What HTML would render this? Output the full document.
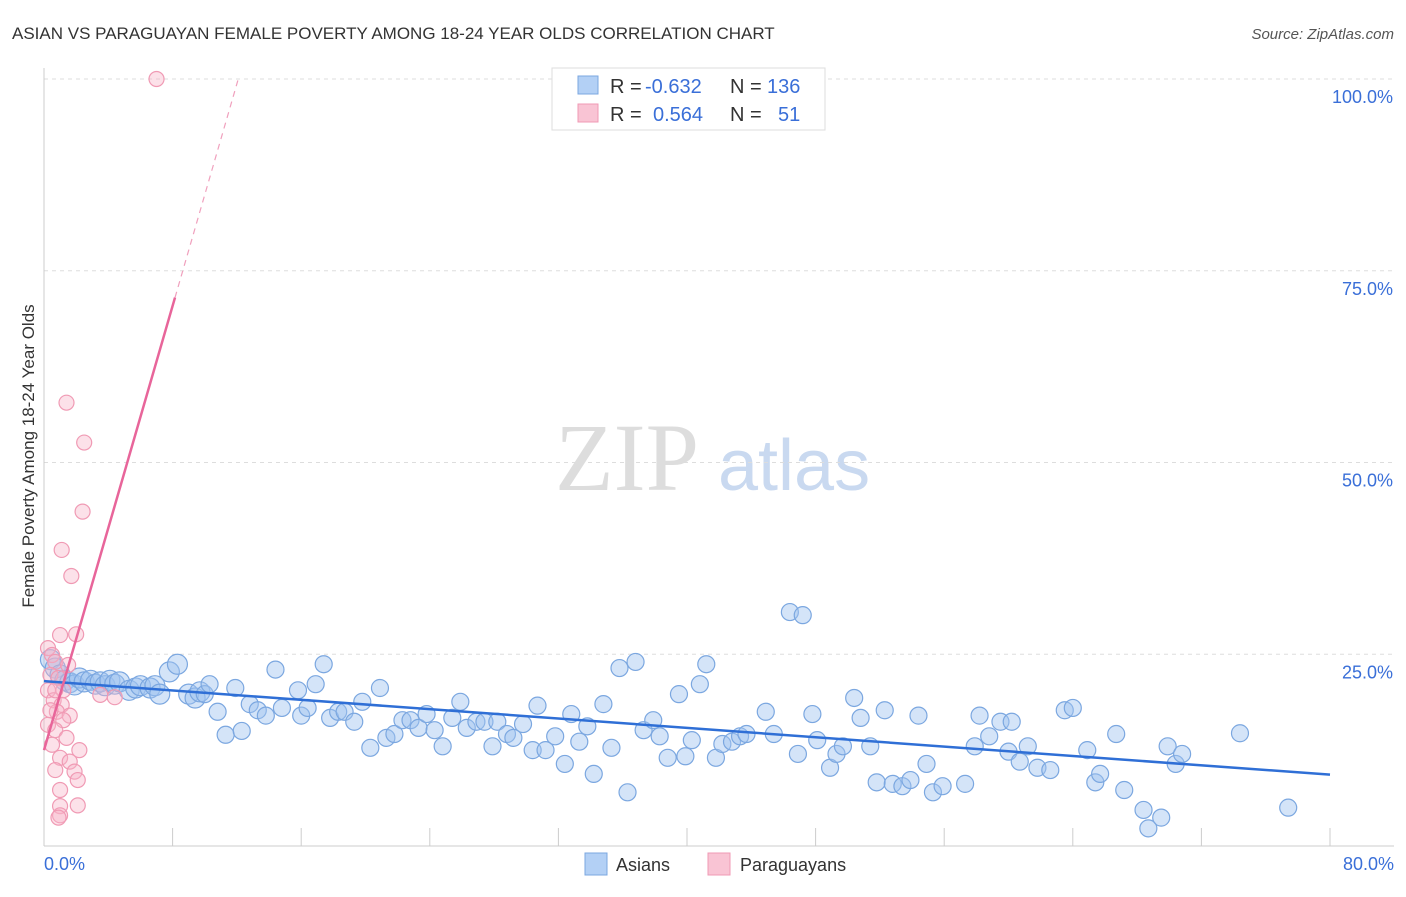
<!DOCTYPE html>
<html><head><meta charset="utf-8"><style>
body{margin:0;background:#fff;font-family:"Liberation Sans",sans-serif}
</style></head><body>
<svg id="chart" width="1406" height="892" xmlns="http://www.w3.org/2000/svg" font-family="Liberation Sans, sans-serif">
<text x="12" y="39" font-size="17" fill="#333">ASIAN VS PARAGUAYAN FEMALE POVERTY AMONG 18-24 YEAR OLDS CORRELATION CHART</text>
<text x="1394" y="39" font-size="15" fill="#555" text-anchor="end" font-style="italic">Source: ZipAtlas.com</text>
<g><text x="555" y="490" font-size="96" fill="#ddd" font-family="Liberation Serif, serif">ZIP</text><text x="718" y="490" font-size="72" fill="#c9d9f0">atlas</text></g>
<g id="grid"></g><g id="axes"></g><g id="pts"></g><g id="trend"></g>
<text transform="translate(34,456) rotate(-90)" font-size="17" fill="#333" text-anchor="middle">Female Poverty Among 18-24 Year Olds</text>
<g font-size="20">
<rect x="552" y="68" width="273" height="62" fill="#fff" stroke="#ddd"/>
<rect x="578" y="76" width="20" height="18" fill="#b3d0f5" stroke="#7ba7e0"/>
<rect x="578" y="104" width="20" height="18" fill="#f9c4d4" stroke="#f09ab4"/>
<text x="610" y="93" fill="#333">R =</text><text x="645" y="93" fill="#3a6fd8">-0.632</text>
<text x="730" y="93" fill="#333">N =</text><text x="767" y="93" fill="#3a6fd8">136</text>
<text x="610" y="121" fill="#333">R =</text><text x="653" y="121" fill="#3a6fd8">0.564</text>
<text x="730" y="121" fill="#333">N =</text><text x="778" y="121" fill="#3a6fd8">51</text>
</g>
<g>
<rect x="585" y="853" width="22" height="22" fill="#b3d0f5" stroke="#7ba7e0"/><text x="616" y="871" font-size="18" fill="#333">Asians</text>
<rect x="708" y="853" width="22" height="22" fill="#f9c4d4" stroke="#f09ab4"/><text x="740" y="871" font-size="18" fill="#333">Paraguayans</text>
</g>
</svg>
<script>
const xTicks=[0,8,16,24,32,40,48,56,64,72,80];
const yTicks=[25,50,75,100];
const yTickLabels=["25.0%","50.0%","75.0%","100.0%"];
const xLabels=["0.0%","80.0%"];
const asianX=[0.4,0.7,1.0,1.3,1.6,1.9,2.2,2.5,2.9,3.2,3.5,3.8,4.1,4.4,4.7,5.3,5.7,6.0,6.6,6.9,7.2,7.8,8.3,9.0,9.4,9.7,10.0,10.3,10.8,11.3,11.9,12.3,12.8,13.3,13.8,14.4,14.8,15.8,16.0,16.4,16.9,17.4,17.8,18.3,18.7,19.3,19.8,20.3,20.9,21.3,21.8,22.3,22.8,23.3,23.8,24.3,24.8,25.4,25.9,26.3,26.9,27.4,27.9,28.2,28.8,29.2,29.8,30.4,30.7,31.2,31.8,32.4,32.8,33.3,33.8,34.2,34.8,35.3,35.8,36.3,36.8,37.3,37.9,38.3,38.8,39.5,39.9,40.3,40.8,41.2,41.8,42.2,42.8,43.3,43.7,44.9,45.4,46.4,46.9,47.2,47.8,48.1,48.9,49.3,49.7,50.4,50.8,51.4,51.8,52.3,52.8,53.4,53.9,54.4,54.9,55.3,55.9,57.3,57.9,58.2,58.8,59.5,60.0,60.2,60.7,61.2,61.8,62.6,63.5,64.0,64.9,65.4,65.7,66.7,67.2,68.4,68.7,69.5,69.9,70.4,70.8,74.4,77.4];
const asianY=[24.3,23.2,22.3,21.6,21.3,21.0,21.9,21.4,21.6,21.1,21.4,20.9,21.6,21.1,21.4,20.3,20.6,20.9,20.6,20.9,19.8,22.7,23.7,19.8,19.3,20.1,19.8,21.1,17.5,14.5,20.6,15.0,18.5,17.7,17.0,23.0,18.0,20.3,17.0,18.0,21.1,23.7,16.7,17.5,17.5,16.2,18.8,12.8,20.6,14.1,14.6,16.4,16.4,15.4,17.2,15.1,13.0,16.7,18.8,15.4,16.2,16.2,13.0,16.2,14.6,14.1,15.9,12.5,18.3,12.5,14.3,10.7,17.2,13.6,15.6,9.4,18.5,12.8,23.2,7.0,24.0,15.1,16.4,14.3,11.5,19.8,11.7,13.8,21.1,23.7,11.5,13.3,13.6,14.3,14.6,17.5,14.6,30.5,12.0,30.1,17.2,13.8,10.2,12.0,13.0,19.3,16.7,13.0,8.3,17.7,8.1,7.8,8.6,17.0,10.7,7.0,7.8,8.1,13.0,17.0,14.3,16.2,12.3,16.2,11.0,13.0,10.2,9.9,17.7,18.0,12.5,8.3,9.4,14.6,7.3,4.7,2.3,3.7,13.0,10.7,12.0,14.7,5.0];
const paraX=[7.0,1.4,2.5,2.4,1.1,1.7,1.0,2.0,0.25,0.5,0.7,0.4,0.9,0.25,0.6,1.1,0.8,1.6,1.2,0.25,0.7,1.4,0.5,2.2,1.0,1.6,0.7,1.9,2.1,1.0,2.1,1.0,1.0,0.9,3.5,4.4,1.5,1.2,0.4,0.7];
const paraY=[100,57.8,52.6,43.6,38.6,35.2,27.5,27.6,25.8,24.9,24.0,22.3,21.9,20.3,19.0,18.4,17.5,17.0,16.4,15.8,15.1,14.1,13.2,12.5,11.5,11.0,9.9,9.7,8.6,7.3,5.3,5.2,4.0,3.7,19.7,19.4,23.6,20.3,17.7,20.3];
const asianTrend=[21.5,9.3];
const paraTrend=[12.5,7.24];
const NS="http://www.w3.org/2000/svg";
const X=v=>44+v*16.075, Y=v=>846-v*7.67;
function mk(tag,attrs,parent){const e=document.createElementNS(NS,tag);for(const k in attrs)e.setAttribute(k,attrs[k]);document.getElementById(parent).appendChild(e);return e;}
yTicks.forEach((t,i)=>{
 const g=mk('line',{x1:44,x2:1394,y1:Y(t),y2:Y(t),stroke:'#ddd','stroke-dasharray':'4,4'},'grid');
 
 
 const l=mk('text',{x:1393,y:Y(t)+24,'font-size':18,fill:'#3a6fd8','text-anchor':'end'},'grid');l.textContent=yTickLabels[i];
 
 
});
const ax=mk('line',{x1:44,x2:44,y1:68,y2:846,stroke:'#ccc'},'axes');


const bx=mk('line',{x1:44,x2:1394,y1:846,y2:846,stroke:'#ccc'},'axes');


xTicks.forEach(t=>{const k=mk('line',{x1:X(t),x2:X(t),y1:828,y2:846,stroke:'#ccc'},'axes');
 
 });
[[0,'start',44],[80,'end',1394]].forEach((d,i)=>{const l=mk('text',{x:d[2],y:870,'font-size':18,fill:'#3a6fd8','text-anchor':d[1]},'axes');l.textContent=xLabels[i];
 
 });
asianX.forEach((x,i)=>{const c=mk('circle',{cx:X(x),cy:Y(asianY[i]),r:x<10?10:8.5,fill:'rgba(160,196,240,0.45)',stroke:'#7ba7e0','stroke-width':1.2},'pts');
 
 });
paraX.forEach((x,i)=>{const c=mk('circle',{cx:X(x),cy:Y(paraY[i]),r:7.5,fill:'rgba(248,180,200,0.4)',stroke:'#f09ab4','stroke-width':1.2},'pts');
 
 });
const at=mk('line',{x1:X(0),y1:Y(asianTrend[0]),x2:X(80),y2:Y(asianTrend[1]),stroke:'#2f6fd6','stroke-width':2.5},'trend');


const pEnd=8.15,pDash=(100-paraTrend[0])/paraTrend[1];
const pt=mk('line',{x1:X(0),y1:Y(paraTrend[0]),x2:X(pEnd),y2:Y(paraTrend[0]+paraTrend[1]*pEnd),stroke:'#e8659a','stroke-width':2.5},'trend');


const pd=mk('line',{x1:X(pEnd),y1:Y(paraTrend[0]+paraTrend[1]*pEnd),x2:X(pDash),y2:Y(100),stroke:'#f0a0bd','stroke-width':1.2,'stroke-dasharray':'6,5'},'trend');


</script>
</body></html>
